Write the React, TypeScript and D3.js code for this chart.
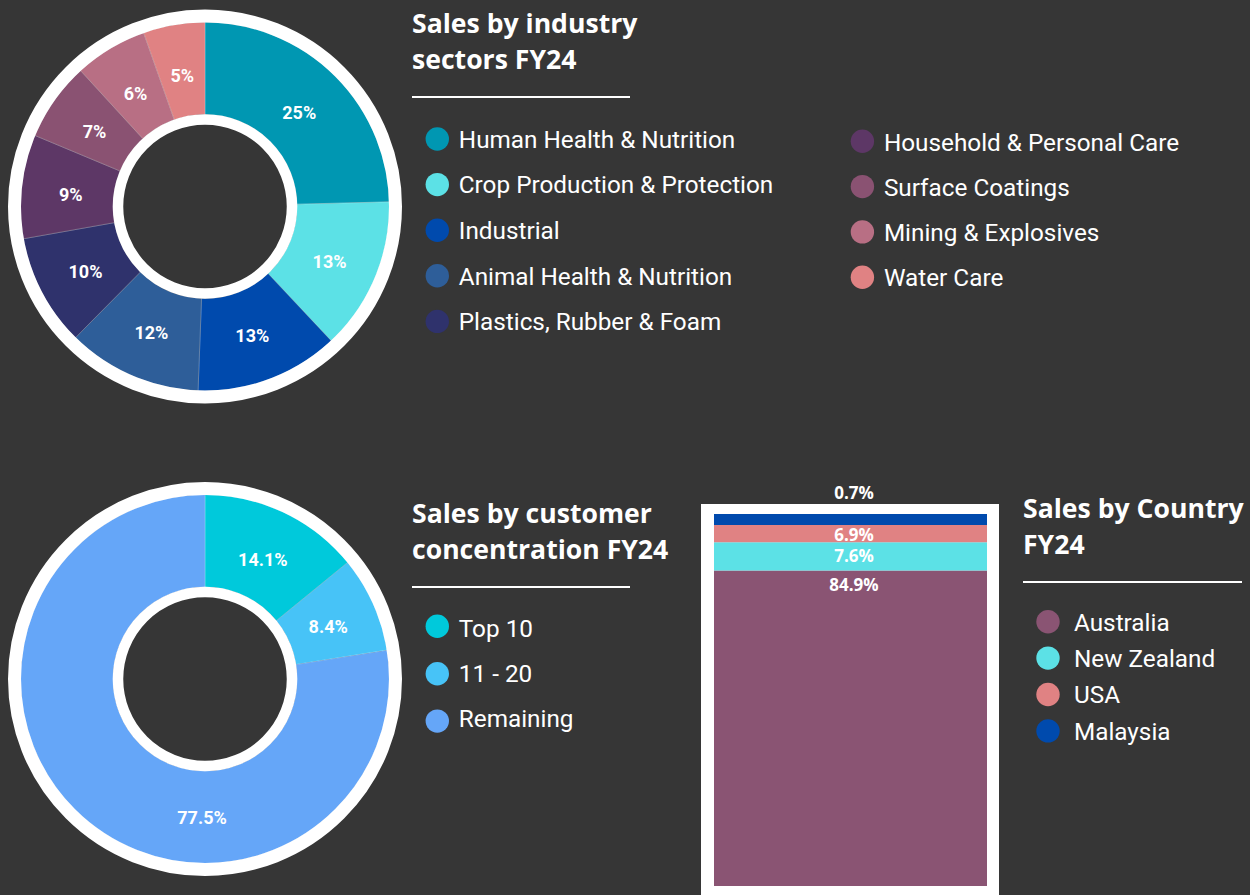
import React from "react";
import * as d3 from "d3";

// ---------- DATA ----------
const sectorNames = [
  "Human Health & Nutrition",
  "Crop Production & Protection",
  "Industrial",
  "Animal Health & Nutrition",
  "Plastics, Rubber & Foam",
  "Household & Personal Care",
  "Surface Coatings",
  "Mining & Explosives",
  "Water Care",
];
const sectorValues = [24.6, 13.4, 12.6, 11.8, 9.8, 9.1, 6.9, 6.4, 5.4];
const sectorColors = [
  "#0097B2", "#5CE1E6", "#004AAD", "#2E5E99", "#2F326C",
  "#5D3766", "#8A5272", "#B86F84", "#E08283",
];

const customerNames = ["Top 10", "11 - 20", "Remaining"];
const customerValues = [14.1, 8.4, 77.5];
const customerColors = ["#00C9DB", "#47C3F7", "#65A6F8"];

const countryNames = ["Australia", "New Zealand", "USA", "Malaysia"];
const countryValues = [84.9, 7.6, 6.9, 0.7];
const countryColors = ["#8A5473", "#5CE1E6", "#E08283", "#004AAD"];

// ---------- STYLE ----------
const BG = "#363636";
const TITLE_FONT = "'Open Sans', sans-serif";
const BODY_FONT = "Roboto, sans-serif";

function Donut({ cx, cy, values, colors, fmt }: { cx: number; cy: number; values: number[]; colors: string[]; fmt: (v: number) => string }) {
  const rIn = 92;
  const rOut = 184.5;
  const pie = d3.pie<number>().sort(null).value((d) => d);
  const arcs = pie(values);
  const arc = d3.arc<d3.PieArcDatum<number>>().innerRadius(rIn).outerRadius(rOut);
  const labelArc = d3.arc<d3.PieArcDatum<number>>().innerRadius(135).outerRadius(135);
  return (
    <g transform={`translate(${cx},${cy})`}>
      {arcs.map((a, i) => (
        <path key={i} d={arc(a) || ""} fill={colors[i]} stroke="rgba(255,255,255,0.35)" strokeWidth={0.6} />
      ))}
      <circle r={190.5} fill="none" stroke="#ffffff" strokeWidth={13} />
      <circle r={87} fill={BG} stroke="#ffffff" strokeWidth={10.5} />
      {arcs.map((a, i) => {
        let pos: [number, number];
        if (a.endAngle - a.startAngle > Math.PI) {
          pos = [-3, 136];
        } else {
          pos = labelArc.centroid(a) as [number, number];
        }
        return (
          <text
            key={"l" + i}
            x={pos[0]}
            y={pos[1]}
            dy="0.5em"
            textAnchor="middle"
            fill="#ffffff"
            fontFamily={BODY_FONT}
            fontWeight={700}
            fontSize={18}
          >
            {fmt(a.data)}
          </text>
        );
      })}
    </g>
  );
}

function Title({ x, y, lines, lineWidth, underlineY }: { x: number; y: number; lines: string[]; lineWidth: number; underlineY: number }) {
  return (
    <g>
      {lines.map((t, i) => (
        <text key={i} x={x} y={y + i * 36.2} fill="#ffffff" fontFamily={TITLE_FONT} fontWeight={700} fontSize={26.6}>
          {t}
        </text>
      ))}
      <line x1={x} x2={x + lineWidth} y1={underlineY} y2={underlineY} stroke="#ffffff" strokeWidth={2} />
    </g>
  );
}

function Legend({ x, y, step, names, colors, textDx = 21.5, textY, textStep }: { x: number; y: number; step: number; names: string[]; colors: string[]; textDx?: number; textY: number; textStep?: number }) {
  const ts = textStep ?? step;
  return (
    <g>
      {names.map((n, i) => (
        <g key={i}>
          <circle cx={x} cy={y + i * step} r={11.7} fill={colors[i]} />
          <text x={x + textDx} y={textY + i * ts} fill="#ffffff" fontFamily={BODY_FONT} fontSize={24.3}>
            {n}
          </text>
        </g>
      ))}
    </g>
  );
}

function StackBar() {
  const frame = { x0: 701, x1: 999, y0: 504 };
  const inner = { x0: 714, x1: 987, y0: 514, y1: 886 };
  const total = d3.sum(countryValues);
  const y = d3.scaleLinear().domain([0, total]).range([inner.y1, inner.y0]);
  const minPx = 11;
  const cum: number[] = [];
  let acc = 0;
  countryValues.forEach((v) => {
    cum.push(acc);
    acc += v;
  });
  const segs = countryValues.map((v, i) => ({
    i,
    v,
    top: y(cum[i] + v),
    bottom: y(cum[i]),
    trueH: y(cum[i]) - y(cum[i] + v),
  }));
  for (let k = segs.length - 1; k >= 0; k--) {
    const s = segs[k];
    if (k < segs.length - 1) s.top = segs[k + 1].bottom;
    if (s.bottom - s.top < minPx) s.bottom = s.top + minPx;
  }
  const cx = (inner.x0 + inner.x1) / 2 + 3.5;
  return (
    <g>
      <rect x={frame.x0} y={frame.y0} width={frame.x1 - frame.x0} height={920 - frame.y0} fill="#ffffff" />
      {segs.map((s) => (
        <rect key={s.i} x={inner.x0} y={s.top} width={inner.x1 - inner.x0} height={s.bottom - s.top} fill={countryColors[s.i]} />
      ))}
      {segs.map((s) => {
        const h = s.bottom - s.top;
        const ly = s.trueH < 14 ? frame.y0 - 11 : s.top + Math.min(h / 2 + 1.5, 14);
        return (
          <text
            key={"t" + s.i}
            x={cx}
            y={ly}
            dy="0.36em"
            textAnchor="middle"
            fill="#ffffff"
            fontFamily={TITLE_FONT}
            fontWeight={700}
            fontSize={17}
          >
            {d3.format(".1f")(s.v) + "%"}
          </text>
        );
      })}
    </g>
  );
}

export default function App() {
  return (
    <svg
      width={1250}
      height={895}
      style={{ position: "absolute", left: 0, top: 0, display: "block", background: BG }}
    >
      <rect width={1250} height={895} fill={BG} />

      {/* Top: industry sectors */}
      <Donut cx={205} cy={206.5} values={sectorValues} colors={sectorColors} fmt={(v) => Math.round(v) + "%"} />
      <Title x={412} y={33} lines={["Sales by industry", "sectors FY24"]} lineWidth={218} underlineY={97} />
      <Legend x={437.3} y={139} step={45.6} textY={147.8} names={sectorNames.slice(0, 5)} colors={sectorColors.slice(0, 5)} />
      <Legend x={862.4} y={141.3} step={45.3} textY={150.5} names={sectorNames.slice(5)} colors={sectorColors.slice(5)} />

      {/* Bottom left: customer concentration */}
      <Donut cx={205} cy={679} values={customerValues} colors={customerColors} fmt={(v) => d3.format(".1f")(v) + "%"} />
      <Title x={412} y={523} lines={["Sales by customer", "concentration FY24"]} lineWidth={218} underlineY={587} />
      <Legend x={437.3} y={626.3} step={47.4} textY={636.7} textStep={45} names={customerNames} colors={customerColors} />

      {/* Bottom right: country */}
      <StackBar />
      <Title x={1023} y={517.5} lines={["Sales by Country", "FY24"]} lineWidth={219} underlineY={582} />
      <Legend x={1048} y={621.7} step={36.4} textY={631} textStep={36.2} names={countryNames} colors={countryColors} textDx={26} />
    </svg>
  );
}
